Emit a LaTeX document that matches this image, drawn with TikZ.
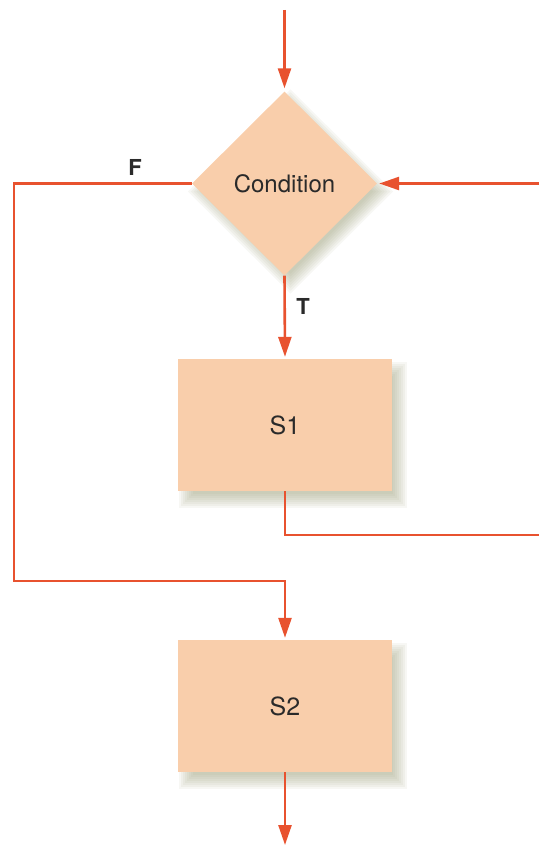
\documentclass[tikz,border=0pt]{standalone}
\usepackage{fontspec}
\setmainfont{TeX Gyre Heros}
\usetikzlibrary{shapes.geometric,arrows.meta,backgrounds,calc}
\definecolor{boxfill}{HTML}{F9CEAB}
\definecolor{linered}{HTML}{E8522F}
\definecolor{shadowcol}{HTML}{8E9268}
\definecolor{txt}{HTML}{2A2A2A}
\begin{document}
\begin{tikzpicture}[x=1pt,y=-1pt,
  flow/.style={draw=linered, line width=2.6pt},
  arr/.style={flow, -{Triangle[length=20pt,width=13pt]}, shorten >=2pt},
  box/.style={rectangle, fill=boxfill, minimum width=214pt, minimum height=132pt, inner sep=0pt, font=\fontsize{25}{28}\selectfont, text=txt},
  cond/.style={diamond, fill=boxfill, minimum width=185pt, minimum height=184pt, inner sep=0pt, font=\fontsize{24}{27}\selectfont, text=txt},
  lbl/.style={font=\bfseries\fontsize{22}{24}\selectfont, text=txt},
  shd/.style={fill=shadowcol, opacity=0.075}]
\useasboundingbox (0,0) rectangle (539,845);
\node[cond] (c) at (284.5,183.5) {Condition};
\node[box] (s1) at (285,425) {S1};
\node[box] (s2) at (285,706) {S2};
\node[lbl] (F) at (135,167) {F};
\node[lbl] (T) at (303,306) {T};
\begin{scope}[on background layer]
\foreach \e in {0,...,7} {
  \pgfmathsetmacro\a{15-2*\e}
  \pgfmathsetmacro\b{17-2*\e}
  \pgfmathsetmacro\cc{1+2*\e}
  \pgfmathsetmacro\dd{3+2*\e}
  \pgfmathsetmacro\d{(2*\e-7)*1.41}
  \pgfmathsetmacro\dn{8-\d}
  \pgfmathsetmacro\dp{8+\d}
  \pgfmathsetmacro\xn{6-\d}
  \pgfmathsetmacro\xp{6+\d}
  \fill[shd] ($(s1.north west)+(\a,\b)$) rectangle ($(s1.south east)+(\cc,\dd)$);
  \fill[shd] ($(s2.north west)+(\a,\b)$) rectangle ($(s2.south east)+(\cc,\dd)$);
  \fill[shd] ($(c.north)+(6,\dn)$) -- ($(c.east)+(\xp,8)$) -- ($(c.south)+(6,\dp)$) -- ($(c.west)+(\xn,8)$) -- cycle;
}
\end{scope}
\coordinate (top) at (284.5,10);
\coordinate (rin) at (539,183.5);
\coordinate (fl1) at (14,183.5);
\coordinate (fl2) at (14,581);
\coordinate (fl3) at (285,581);
\coordinate (b1) at (285,535);
\coordinate (b2) at (539,535);
\coordinate (bot) at (285,847);
\draw[arr, shorten >=3pt] (top) -- (c.north);
\draw[arr] (rin) -- (c.east);
\draw[arr] (c.west) -- (fl1) -- (fl2) -- (fl3) -- (s2.north);
\draw[arr] (c.south) -- (s1.north);
\draw[flow] (s1.south) -- (b1) -- (b2);
\draw[arr] (s2.south) -- (bot);
\end{tikzpicture}
\end{document}
